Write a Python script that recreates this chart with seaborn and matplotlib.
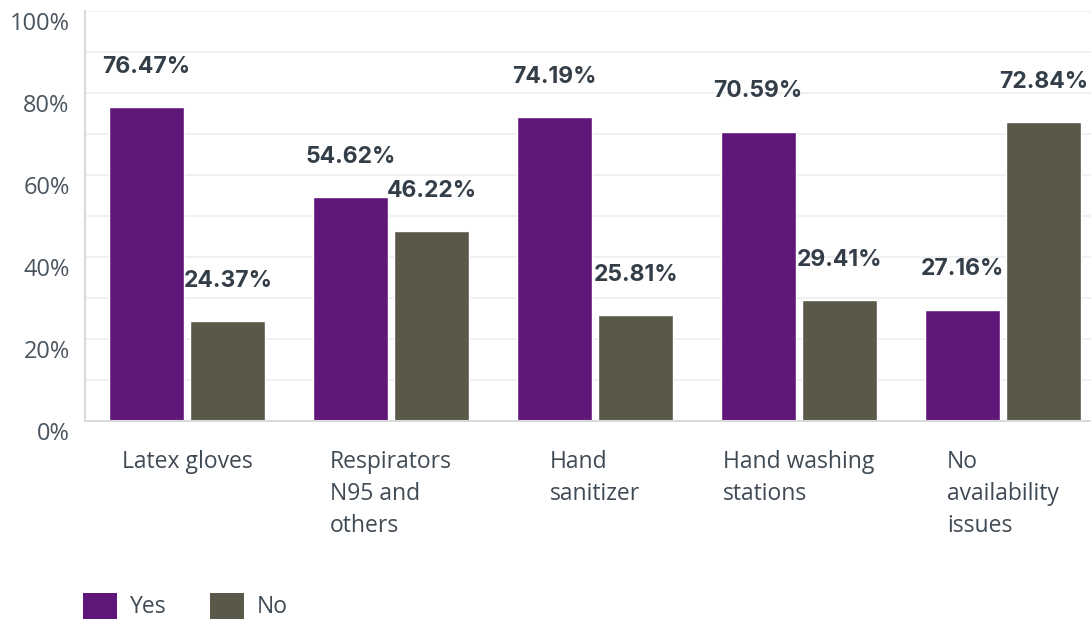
import numpy as np
import pandas as pd
import seaborn as sns
import matplotlib.pyplot as plt
from matplotlib.transforms import ScaledTranslation
from matplotlib.patches import Patch

# ---- data ----
categories = ["Latex gloves", "Respirators\nN95 and\nothers", "Hand\nsanitizer",
              "Hand washing\nstations", "No\navailability\nissues"]
yes_vals = [76.47, 54.62, 74.19, 70.59, 27.16]
no_vals = [24.37, 46.22, 25.81, 29.41, 72.84]
series = ["Yes", "No"]
y_ticks = [0, 20, 40, 60, 80, 100]

colors = {"Yes": "#60177A", "No": "#5A5848"}
text_col = "#333E48"

df = pd.DataFrame({
    "category": categories * 2,
    "answer": ["Yes"] * len(categories) + ["No"] * len(categories),
    "value": yes_vals + no_vals,
})

sns.set_style("white")
plt.rcParams["font.family"] = ["Open Sans", "DejaVu Sans"]

fig = plt.figure(figsize=(10.91, 6.2), dpi=100)
ax = fig.add_axes([85 / 1091, 1 - 421 / 620, 1020 / 1091, 410 / 620])

sns.barplot(data=df, x="category", y="value", hue="answer", order=categories,
            hue_order=series, palette=colors, width=0.8, gap=0.08,
            saturation=1, legend=False, ax=ax)

for cont in ax.containers:
    ax.bar_label(cont, labels=[f"{v:.2f}%" for v in cont.datavalues],
                 padding=21, fontsize=16.5, fontweight="bold", color=text_col,
                 family=["Inter", "DejaVu Sans"])

ax.set_xlim(-0.5, 4.5)
ax.set_ylim(0, 100)
ax.set_yticks(y_ticks)
ax.set_yticks(np.arange(0, 101, 10), minor=True)
ax.set_yticklabels([f"{t}%" for t in y_ticks], fontsize=17, color="#4A5560")
ax.grid(axis="y", which="both", color="#EDEDED", linewidth=1.2)
ax.set_axisbelow(True)
ax.tick_params(axis="both", which="both", length=0)
ax.tick_params(axis="y", pad=11)
ax.tick_params(axis="x", pad=21)
off = ScaledTranslation(0, -10 / 100, fig.dpi_scale_trans)
for lab in ax.get_yticklabels():
    lab.set_transform(lab.get_transform() + off)
for lab in ax.get_xticklabels():
    lab.set_fontsize(16.5)
    lab.set_color("#3F4A55")
    lab.set_multialignment("left")
    lab.set_linespacing(1.45)
    lab.set_verticalalignment("top")
ax.set_xlabel("")
ax.set_ylabel("")

for s in ["top", "right"]:
    ax.spines[s].set_visible(False)
for s in ["left", "bottom"]:
    ax.spines[s].set_color("#DADADA")
    ax.spines[s].set_linewidth(1.5)

handles = [Patch(facecolor=colors[s], edgecolor="none", label=s) for s in series]
fig.legend(handles=handles, loc="center left", bbox_to_anchor=(62 / 1091, 1 - 606 / 620),
           ncol=2, frameon=False, fontsize=16.5, handlelength=1.5, handleheight=1.4,
           columnspacing=1.9, handletextpad=0.55, labelcolor="#3F4A55")

fig.savefig("out.png", dpi=100)
